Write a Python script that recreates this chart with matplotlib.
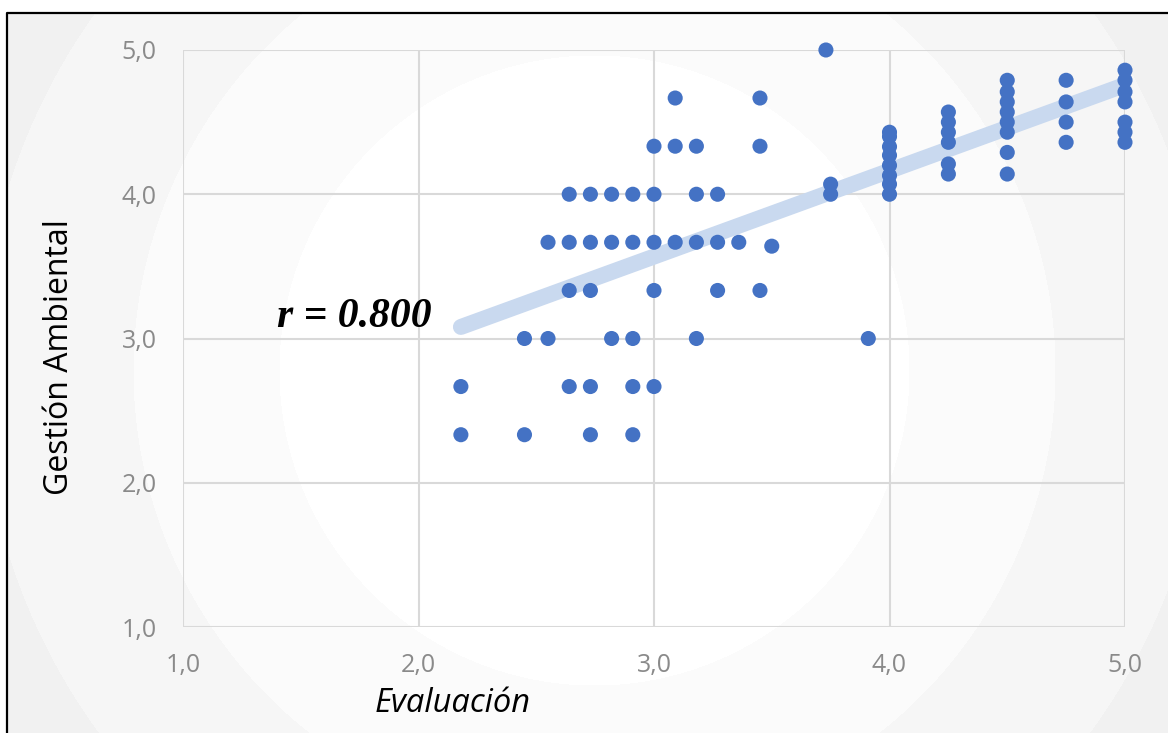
import numpy as np
import matplotlib
matplotlib.use('Agg')
import matplotlib.pyplot as plt
from matplotlib.ticker import FuncFormatter, MultipleLocator

# Evaluación (x) vs Gestión Ambiental (y)
evaluacion = [
    3.09, 3.45,
    3.00, 3.09, 3.18, 3.45,
    2.64, 2.73, 2.82, 2.91, 3.00, 3.18, 3.27,
    2.55, 2.64, 2.73, 2.82, 2.91, 3.00, 3.09, 3.18, 3.27, 3.36, 3.50,
    2.64, 2.73, 3.00, 3.27, 3.45,
    2.45, 2.55, 2.82, 2.91, 3.18, 3.91,
    2.18, 2.64, 2.73, 2.91, 3.00,
    2.18, 2.45, 2.73, 2.91,
    3.73, 3.75, 3.75,
    4.0, 4.0, 4.0, 4.0, 4.0, 4.0, 4.0, 4.0,
    4.25, 4.25, 4.25, 4.25, 4.25, 4.25,
    4.5, 4.5, 4.5, 4.5, 4.5, 4.5, 4.5, 4.5,
    4.75, 4.75, 4.75, 4.75,
    5.0, 5.0, 5.0, 5.0, 5.0, 5.0, 5.0,
]
gestion = [
    4.667, 4.667,
    4.333, 4.333, 4.333, 4.333,
    4.0, 4.0, 4.0, 4.0, 4.0, 4.0, 4.0,
    3.667, 3.667, 3.667, 3.667, 3.667, 3.667, 3.667, 3.667, 3.667, 3.667, 3.64,
    3.333, 3.333, 3.333, 3.333, 3.333,
    3.0, 3.0, 3.0, 3.0, 3.0, 3.0,
    2.667, 2.667, 2.667, 2.667, 2.667,
    2.333, 2.333, 2.333, 2.333,
    5.0, 4.07, 4.0,
    4.0, 4.07, 4.13, 4.2, 4.27, 4.33, 4.4, 4.43,
    4.57, 4.5, 4.43, 4.36, 4.21, 4.14,
    4.79, 4.71, 4.64, 4.57, 4.5, 4.43, 4.29, 4.14,
    4.79, 4.64, 4.5, 4.36,
    4.86, 4.79, 4.71, 4.64, 4.5, 4.43, 4.36,
]
# linear trend line as drawn in the chart (many points overlap, so
# refitting the visible dots gives a slightly steeper line)
trend_slope = 0.595
trend_intercept = 1.783
r_label = "r = 0.800"

W, H = 1168, 733
fig = plt.figure(figsize=(W / 100, H / 100), dpi=100)

# radial banded background, like the Excel chart style
bg = fig.add_axes([0, 0, 1, 1], zorder=0)
yy, xx = np.mgrid[0:H, 0:W]
d = np.hypot(xx - 594, yy - 370)
shade = np.select([d < 315, d < 461, d < 614], [1.0, 0.982, 0.962], 0.942)
shade[:13, :] = 1.0
shade[:, :7] = 1.0
bg.imshow(shade, cmap='gray', vmin=0, vmax=1, extent=(0, W, H, 0), aspect='auto', interpolation='nearest')
bg.plot([7, 7, W], [H, 13, 13], color='black', lw=1.6, solid_capstyle='butt')
bg.set_xlim(0, W)
bg.set_ylim(H, 0)
bg.axis('off')

ax = fig.add_axes([183 / W, 1 - 627 / H, (1125 - 183) / W, (627 - 50) / H], zorder=1)
ax.patch.set_alpha(0)

x = np.array(evaluacion)
y = np.array(gestion)
xt = np.array([x.min(), x.max()])
ax.plot(xt, trend_slope * xt + trend_intercept, color='#c9d9ef', lw=11.5,
        solid_capstyle='round', zorder=2)
ax.scatter(x, y, s=118, color='#4472c4', edgecolors='none', zorder=3, clip_on=False)

ax.set_xlim(1, 5)
ax.set_ylim(1, 5)
ax.xaxis.set_major_locator(MultipleLocator(1))
ax.yaxis.set_major_locator(MultipleLocator(1))
fmt = FuncFormatter(lambda v, p: f"{v:.1f}".replace('.', ','))
ax.xaxis.set_major_formatter(fmt)
ax.yaxis.set_major_formatter(fmt)
ax.grid(True, color='#d9d9d9', lw=1.5, zorder=1)
ax.set_axisbelow(True)
for s in ax.spines.values():
    s.set_visible(False)
ax.tick_params(length=0, labelsize=18, labelcolor='#8a8a8a')
ax.tick_params(axis='x', pad=19)
ax.tick_params(axis='y', pad=19)
for lab in ax.get_xticklabels() + ax.get_yticklabels():
    lab.set_fontfamily('Open Sans')

ax.text(1.40, 3.15, r_label, fontsize=30, fontfamily='Liberation Serif', fontweight='bold',
        fontstyle='italic', ha='left', va='center', zorder=4)

fig.text(453 / W, 1 - 703 / H, "Evaluación", fontsize=23.5, fontfamily='Open Sans',
         fontstyle='italic', ha='center', va='center')
fig.text(60 / W, 1 - 357 / H, "Gestión Ambiental", fontsize=23, fontfamily='Open Sans',
         rotation=90, ha='center', va='center')

fig.savefig('out.png', dpi=100)
